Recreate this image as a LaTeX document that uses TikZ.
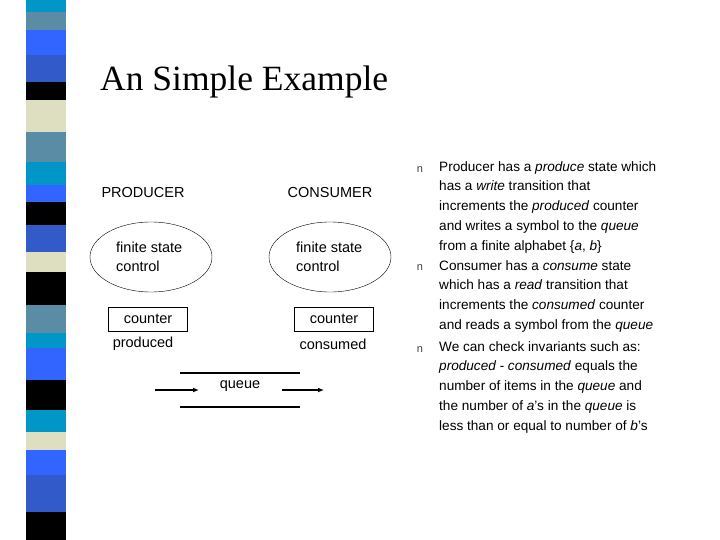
\documentclass[tikz,border=0pt]{standalone}
\usepackage{fontspec}
\setmainfont{Liberation Sans}
\newfontfamily\titlefont{Liberation Serif}
\usetikzlibrary{shapes.geometric,arrows.meta}
\definecolor{cA}{RGB}{0,150,200}
\definecolor{cB}{RGB}{90,140,165}
\definecolor{cC}{RGB}{50,100,255}
\definecolor{cD}{RGB}{50,90,200}
\definecolor{cE}{RGB}{0,0,0}
\definecolor{cF}{RGB}{222,222,192}
\tikzset{lbl/.style={font=\fontsize{14.5}{19}\selectfont, inner sep=0pt},
 cbox/.style={draw, thin, minimum width=79pt, minimum height=24pt, inner sep=0pt, font=\fontsize{14.5}{19}\selectfont},
 fsc/.style={draw, thin, ellipse, minimum width=122pt, minimum height=70pt},
 para/.style={font=\fontsize{13.6}{19.8}\selectfont, align=left, inner sep=0pt, anchor=north west},
 bul/.style={font=\fontsize{11}{12}\selectfont, text=black!75, inner sep=0pt}}
\begin{document}
\begin{tikzpicture}[x=1pt,y=-1pt]
\useasboundingbox (0,0) rectangle (720,540);
\fill[white] (0,0) rectangle (720,540);
\foreach \a/\b/\c in {0/12/cA,12/30/cB,30/55/cC,55/82/cD,82/100/cE,100/132/cF,132/162/cB,162/185/cA,185/202/cC,202/225/cE,225/252/cD,252/272/cF,272/305/cE,305/333/cB,333/348/cA,348/380/cC,380/410/cE,410/432/cA,432/450/cF,450/475/cC,475/512/cD,512/540/cE}
  \fill[\c] (26,\a) rectangle (66,\b);
\node[anchor=west, font=\titlefont\fontsize{35.5}{40}\selectfont, inner sep=0pt] (title) at (100,82) {An Simple Example};
\node[lbl] (prod) at (143,193) {PRODUCER};
\node[lbl] (cons) at (330,193) {CONSUMER};
\node[fsc] (e1) at (151,257) {};
\node[fsc] (e2) at (330,257) {};
\node[lbl, align=left, anchor=west] (t1) at (116,257) {finite state\\control};
\node[lbl, align=left, anchor=west] (t2) at (296,257) {finite state\\control};
\node[cbox] (c1) at (148,319) {counter};
\node[cbox] (c2) at (334,319) {counter};
\node[lbl] (p1) at (143,344) {produced};
\node[lbl] (p2) at (333,344) {consumed};
\node[lbl] (q) at (240,386) {queue};
\coordinate (qa) at (180,373); \coordinate (qb) at (300,373);
\coordinate (qc) at (180,407); \coordinate (qd) at (300,407);
\draw[line width=1.5pt] (qa) -- (qb);
\draw[line width=1.5pt] (qc) -- (qd);
\coordinate (a1) at (155,390); \coordinate (a2) at (199,390);
\coordinate (a3) at (282,390); \coordinate (a4) at (324,390);
\draw[line width=1.2pt,-{Latex[length=6pt,width=5pt]}] (a1) -- (a2);
\draw[line width=1.2pt,-{Latex[length=6pt,width=5pt]}] (a3) -- (a4);
\node[bul] (b1) at (420,170) {n};
\node[bul] (b2) at (420,268) {n};
\node[bul] (b3) at (420,350) {n};
\node[para] (s1) at (439,161) {Producer has a \emph{produce} state which\\has a \emph{write} transition that\\increments the \emph{produced} counter\\and writes a symbol to the \emph{queue}\\from a finite alphabet \{\emph{a}, \emph{b}\}};
\node[para] (s2) at (439,260) {Consumer has a \emph{consume} state\\which has a \emph{read} transition that\\increments the \emph{consumed} counter\\and reads a symbol from the \emph{queue}};
\node[para] (s3) at (439,341) {We can check invariants such as:\\\emph{produced - consumed} equals the\\number of items in the \emph{queue} and\\the number of \emph{a}'s in the \emph{queue} is\\less than or equal to number of \emph{b}'s};
\end{tikzpicture}
\end{document}
